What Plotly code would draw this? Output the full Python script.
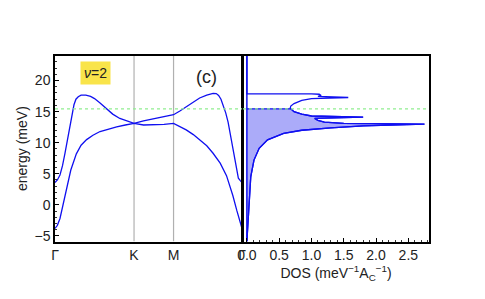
import plotly.graph_objects as go

# ---------------- data ----------------
# high-symmetry path positions (Gamma-K-M-Gamma)
k_ticks = [0.0, 1.0, 1.5, 2.366]
k_labels = ["Γ", "K", "M", "Γ"]

upper_k = [0.0, 0.03, 0.063, 0.095, 0.126, 0.16, 0.19, 0.22, 0.24, 0.265, 0.294, 0.33,
           0.39, 0.45, 0.50, 0.57, 0.65, 0.73, 0.82, 0.91, 1.0,
           1.12, 1.24, 1.37, 1.5, 1.58, 1.66, 1.75, 1.83, 1.92, 1.97, 2.0, 2.04, 2.07, 2.10,
           2.13, 2.16, 2.19, 2.23, 2.27, 2.30, 2.32, 2.345, 2.366]
upper_E = [3.6, 4.0, 4.8, 6.3, 8.3, 10.6, 12.6, 14.6, 16.1, 17.0, 17.4, 17.65,
           17.65, 17.45, 17.1, 16.4, 15.55, 14.6, 13.9, 13.45, 13.1,
           13.5, 13.85, 14.2, 14.5, 15.1, 15.8, 16.6, 17.2, 17.65, 17.85, 17.95, 17.9, 17.6, 17.0,
           16.0, 14.8, 13.3, 10.5, 7.2, 5.3, 4.3, 3.9, 3.6]

lower_k = [0.0, 0.03, 0.063, 0.1, 0.147, 0.2, 0.27, 0.33, 0.40, 0.48, 0.57, 0.67, 0.78,
           0.89, 1.0, 1.12, 1.26, 1.38, 1.5,
           1.58, 1.66, 1.75, 1.83, 1.92, 2.0, 2.09, 2.17, 2.21, 2.25, 2.3, 2.34, 2.366]
lower_E = [-3.8, -3.3, -2.2, 0.0, 2.6, 5.6, 8.2, 9.6, 10.5, 11.2, 11.8, 12.2, 12.55,
           12.85, 13.1, 12.85, 12.85, 12.95, 13.1,
           12.6, 12.06, 11.3, 10.45, 9.5, 8.3, 6.7, 4.7, 3.2, 1.5, -0.9, -2.8, -3.8]

fermi_E = 15.45

dos_E = [-5.9, -4.0, -2.4, 1.9, 4.5, 7.2, 9.1, 10.45, 11.5, 12.0, 12.4, 12.7,
         12.98, 13.1, 13.3, 13.6, 13.9, 14.1, 14.2, 14.3, 14.6, 15.0, 15.45,
         15.55, 15.9, 16.3, 16.8, 17.1, 17.27, 17.45, 17.6, 17.8, 17.86, 17.86, 24.0]
dos_v = [0.0, 0.01, 0.02, 0.035, 0.06, 0.11, 0.19, 0.32, 0.57, 0.85, 1.3, 1.8,
         2.75, 1.5, 1.2, 1.1, 1.05, 1.80, 1.1, 1.0, 0.85, 0.73, 0.68,
         0.67, 0.68, 0.73, 0.85, 1.0, 1.57, 1.1, 1.15, 1.12, 1.0, 0.0, 0.0]

dos_ticks = [0.0, 0.5, 1.0, 1.5, 2.0, 2.5]

BLUE = "#1010f0"
OFF = 8  # page body margin in px
W, H = 485, 299


def px_x(p):
    return (p - OFF) / W


def px_y(p):
    return 1 - (p - OFF) / H


fig = go.Figure()

# band structure
fig.add_trace(go.Scatter(x=upper_k, y=upper_E, mode="lines",
                         line=dict(color=BLUE, width=1.3),
                         xaxis="x", yaxis="y", showlegend=False))
fig.add_trace(go.Scatter(x=lower_k, y=lower_E, mode="lines",
                         line=dict(color=BLUE, width=1.3),
                         xaxis="x", yaxis="y", showlegend=False))

# DOS fill below Fermi level
fill_E, fill_v = [], []
for e, v in zip(dos_E, dos_v):
    if e <= fermi_E:
        fill_E.append(e)
        fill_v.append(v)
fill_E = fill_E + [fermi_E]
fill_v = fill_v + [0.0]
fig.add_trace(go.Scatter(x=fill_v, y=fill_E, mode="lines", fill="toself",
                         fillcolor="rgba(150,150,248,0.8)", line=dict(color=BLUE, width=1.3),
                         xaxis="x2", yaxis="y2", showlegend=False))
fig.add_trace(go.Scatter(x=dos_v, y=dos_E, mode="lines", line=dict(color=BLUE, width=1.3),
                         xaxis="x2", yaxis="y2", showlegend=False))
fig.add_trace(go.Scatter(x=[0, 0], y=[-5.9, 24], mode="lines", line=dict(color=BLUE, width=1.5),
                         xaxis="x2", yaxis="y2", showlegend=False))

yr = [-5.9, 24]
shapes = []
for kv in [1.0, 1.5]:
    shapes.append(dict(type="line", xref="x", yref="y", x0=kv, x1=kv, y0=yr[0], y1=yr[1],
                       line=dict(color="#b0b0b0", width=1.2), layer="below"))
shapes.append(dict(type="line", xref="x", yref="y", x0=0, x1=2.366, y0=fermi_E, y1=fermi_E,
                   line=dict(color="#90ee90", width=1.2, dash="dot")))
shapes.append(dict(type="line", xref="x2", yref="y2", x0=-0.06, x1=2.82, y0=fermi_E, y1=fermi_E,
                   line=dict(color="#90ee90", width=1.2, dash="dot")))

font = dict(family="Liberation Sans, Arial, sans-serif", size=14, color="#222")
ydom = [px_y(241.5), px_y(55.7)]

fig.update_layout(
    width=W, height=H,
    margin=dict(l=0, r=0, t=0, b=0),
    paper_bgcolor="white", plot_bgcolor="white",
    font=font,
    shapes=shapes,
    xaxis=dict(domain=[px_x(55), px_x(242)], range=[0, 2.366], tickvals=k_ticks, ticktext=k_labels,
               ticks="", showgrid=False, zeroline=False, showline=True, linecolor="black",
               linewidth=1.5, mirror=True, tickfont=font, automargin=False),
    yaxis=dict(domain=ydom, range=yr, tickvals=[-5, 0, 5, 10, 15, 20],
               ticktext=["−5", "0", "5", "10", "15", "20"],
               ticks="inside", ticklen=4, tickcolor="black", showgrid=False, zeroline=False,
               showline=True, linecolor="black", linewidth=1.5, mirror=True,
               minor=dict(ticks="inside", ticklen=2, dtick=1, tickcolor="#333"),
               title=dict(text="energy (meV)", font=font, standoff=4), tickfont=font,
               automargin=False),
    xaxis2=dict(domain=[px_x(243), px_x(429)], range=[-0.06, 2.82], tickvals=dos_ticks,
                ticktext=["0.0", "0.5", "1.0", "1.5", "2.0", "2.5"],
                ticks="inside", ticklen=4, tickcolor="black", showgrid=False, zeroline=False,
                showline=True, linecolor="black", linewidth=1.5, mirror=True,
                minor=dict(ticks="inside", ticklen=2, dtick=0.1, tickcolor="#333"),
                anchor="y2",
                title=dict(text="DOS (meV<sup>−1</sup>A<sub>C</sub><sup>−1</sup>)", font=font, standoff=4),
                tickfont=font, automargin=False),
    yaxis2=dict(domain=ydom, range=yr, anchor="x2", showticklabels=False,
                ticks="", showgrid=False, zeroline=False, showline=True, linecolor="black",
                linewidth=1.5, mirror=True, automargin=False),
    annotations=[
        dict(text="<i>ν</i>=2", xref="paper", yref="paper", x=px_x(95), y=px_y(73),
             xanchor="center", yanchor="middle",
             showarrow=False, font=dict(family="Liberation Sans, Arial, sans-serif", size=14, color="#222"),
             bgcolor="#f9e44a", borderpad=3),
        dict(text="(c)", xref="paper", yref="paper", x=px_x(206), y=px_y(77),
             xanchor="center", yanchor="middle",
             showarrow=False, font=dict(family="Liberation Sans, Arial, sans-serif", size=18, color="#222")),
    ],
)

fig.write_html("out.html")
